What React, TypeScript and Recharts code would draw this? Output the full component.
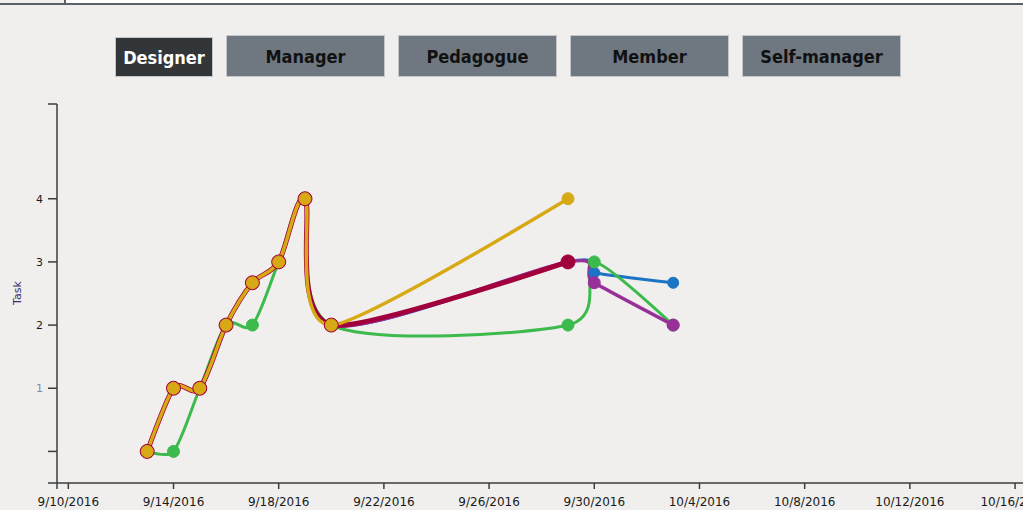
import { LineChart, Line, XAxis, YAxis } from 'recharts';

// day offsets from 9/10/2016
const dayTicks = [-0.43, 0, 4, 8, 12, 16, 20, 24, 28, 32, 36];
const levelTicks = [-0.5, 0, 1, 2, 3, 4, 5.5];
const tabs = ['Designer', 'Manager', 'Pedagogue', 'Member', 'Self-manager'];

const greenPts = [
	{ x: 3, v: 0 },
	{ x: 4, v: 0 },
	{ x: 5, v: 1 },
	{ x: 6, v: 2 },
	{ x: 7, v: 2 },
	{ x: 8, v: 3 },
	{ x: 9, v: 4 },
	{ x: 10, v: 2 },
	{ x: 19, v: 2 },
	{ x: 20, v: 3 },
	{ x: 23, v: 2 },
];
const bluePts = [
	{ x: 3, v: 0 },
	{ x: 4, v: 1 },
	{ x: 5, v: 1 },
	{ x: 6, v: 2 },
	{ x: 7, v: 2.67 },
	{ x: 8, v: 3 },
	{ x: 9, v: 4 },
	{ x: 10, v: 2 },
	{ x: 19, v: 3 },
	{ x: 20, v: 2.83 },
	{ x: 23, v: 2.67 },
];
const purplePts = [
	{ x: 3, v: 0 },
	{ x: 4, v: 1 },
	{ x: 5, v: 1 },
	{ x: 6, v: 2 },
	{ x: 7, v: 2.67 },
	{ x: 8, v: 3 },
	{ x: 9, v: 4 },
	{ x: 10, v: 2 },
	{ x: 19, v: 3 },
	{ x: 20, v: 2.67 },
	{ x: 23, v: 2 },
];
const maroonPts = [
	{ x: 3, v: 0 },
	{ x: 4, v: 1 },
	{ x: 5, v: 1 },
	{ x: 6, v: 2 },
	{ x: 7, v: 2.67 },
	{ x: 8, v: 3 },
	{ x: 9, v: 4 },
	{ x: 10, v: 2 },
	{ x: 19, v: 3 },
];
const yellowPts = [
	{ x: 3, v: 0 },
	{ x: 4, v: 1 },
	{ x: 5, v: 1 },
	{ x: 6, v: 2 },
	{ x: 7, v: 2.67 },
	{ x: 8, v: 3 },
	{ x: 9, v: 4 },
	{ x: 10, v: 2 },
	{ x: 19, v: 4 },
];

// old d3 v3 style cardinal curve, tension 0.7
function cardinal(context: any) {
	let pts: number[][] = [];
	return {
		areaStart() {},
		areaEnd() {},
		lineStart() {
			pts = [];
		},
		point(x: number, y: number) {
			pts.push([+x, +y]);
		},
		lineEnd() {
			const n = pts.length;
			if (!n) return;
			context.moveTo(pts[0][0], pts[0][1]);
			if (n < 3) {
				for (let i = 1; i < n; i++) context.lineTo(pts[i][0], pts[i][1]);
				return;
			}
			const a = 0.15;
			const tan: number[][] = [];
			for (let i = 1; i < n - 1; i++) {
				tan.push([a * (pts[i + 1][0] - pts[i - 1][0]), a * (pts[i + 1][1] - pts[i - 1][1])]);
			}
			const t0 = tan[0];
			context.quadraticCurveTo(pts[1][0] - (t0[0] * 2) / 3, pts[1][1] - (t0[1] * 2) / 3, pts[1][0], pts[1][1]);
			for (let i = 1; i < n - 2; i++) {
				const p0 = pts[i];
				const p1 = pts[i + 1];
				const ta = tan[i - 1];
				const tb = tan[i];
				context.bezierCurveTo(p0[0] + ta[0], p0[1] + ta[1], p1[0] - tb[0], p1[1] - tb[1], p1[0], p1[1]);
			}
			const tl = tan[n - 3];
			const pl = pts[n - 2];
			const pe = pts[n - 1];
			context.quadraticCurveTo(pl[0] + (tl[0] * 2) / 3, pl[1] + (tl[1] * 2) / 3, pe[0], pe[1]);
		},
	};
}

const fmtDay = (d: number) => {
	if (d < 0) return '';
	const dt = new Date(Date.UTC(2016, 8, 10 + d));
	return `${dt.getUTCMonth() + 1}/${dt.getUTCDate()}/${dt.getUTCFullYear()}`;
};

const YTick = (props: any) => {
	const { x, y, payload } = props;
	const v = payload.value;
	if (v < 1 || v > 4) return <g />;
	return (
		<text x={x} y={y} dy='0.36em' textAnchor='end' fontSize={11} fill={v === 1 ? '#8189ad' : '#1a1a1a'} fontFamily='DejaVu Sans'>
			{v}
		</text>
	);
};

const series = [
	{ pts: bluePts, color: '#1c74c4', w: 3, r: 5.5 },
	{ pts: greenPts, color: '#3cba4c', w: 3, r: 6 },
	{ pts: purplePts, color: '#992f98', w: 3.5, r: 6 },
	{ pts: maroonPts, color: '#a1003c', w: 5, r: 7 },
	{ pts: yellowPts, color: '#d7a914', w: 3.5, r: 6 },
];

export default function App() {
	return (
		<div
			style={{
				position: 'absolute',
				left: 0,
				top: 0,
				width: 1023,
				height: 510,
				overflow: 'hidden',
				background: '#f0efed',
				fontFamily: 'DejaVu Sans',
			}}
		>
			<div style={{ position: 'absolute', left: 65, top: 0, width: 958, height: 3, background: '#ffffff' }} />
			<div style={{ position: 'absolute', left: 64, top: 0, width: 2, height: 3, background: '#5b6066' }} />
			<div style={{ position: 'absolute', left: 0, top: 3, width: 1023, height: 2, background: '#5b6066' }} />
			{tabs.map((t, i) => {
				const first = i === 0;
				return (
					<div
						key={t}
						style={{
							position: 'absolute',
							left: first ? 115 : 226 + (i - 1) * 172,
							top: first ? 37 : 35,
							width: first ? 98 : 159,
							height: first ? 40 : 42,
							boxSizing: 'border-box',
							border: '1px solid #c4c7ca',
							background: first ? '#333639' : '#6f7881',
							color: first ? '#ffffff' : '#111111',
							fontFamily: 'DejaVu Sans Condensed',
							fontWeight: 'bold',
							fontSize: 18,
							display: 'flex',
							alignItems: 'center',
							justifyContent: 'center',
						}}
					>
						{t}
					</div>
				);
			})}
			<div style={{ position: 'absolute', left: 0, top: 0 }}>
				<LineChart width={1100} height={510} margin={{ top: 104, right: 0, bottom: 0, left: 0 }}>
					<XAxis
						dataKey='x'
						type='number'
						domain={[-0.43, 39.23]}
						ticks={dayTicks}
						interval={0}
						tickFormatter={fmtDay}
						height={27}
						tickSize={6}
						tickMargin={8}
						stroke='#3c3c3c'
						strokeWidth={1.5}
						tick={{ fontSize: 12, fill: '#1a1a1a', fontFamily: 'DejaVu Sans' }}
						allowDataOverflow
					/>
					<YAxis
						type='number'
						domain={[-0.5, 5.5]}
						ticks={levelTicks}
						interval={0}
						width={57}
						tickSize={9}
						tickMargin={5}
						stroke='#3c3c3c'
						strokeWidth={1.5}
						tick={<YTick />}
						allowDataOverflow
						label={{
							content: () => (
								<text
									x={17}
									y={293}
									transform='rotate(-90 17 293)'
									textAnchor='middle'
									dominantBaseline='central'
									fontSize={11}
									fill='#3d2a6b'
									fontFamily='DejaVu Sans'
								>
									Task
								</text>
							),
						}}
					/>
					{series.map((s, i) => (
						<Line
							key={i}
							data={s.pts}
							dataKey='v'
							type={cardinal as any}
							stroke={s.color}
							strokeWidth={s.w}
							dot={{ r: s.r, fill: s.color, stroke: s.color, strokeWidth: 1 }}
							activeDot={false}
							isAnimationActive={false}
						/>
					))}
				</LineChart>
			</div>
		</div>
	);
}
